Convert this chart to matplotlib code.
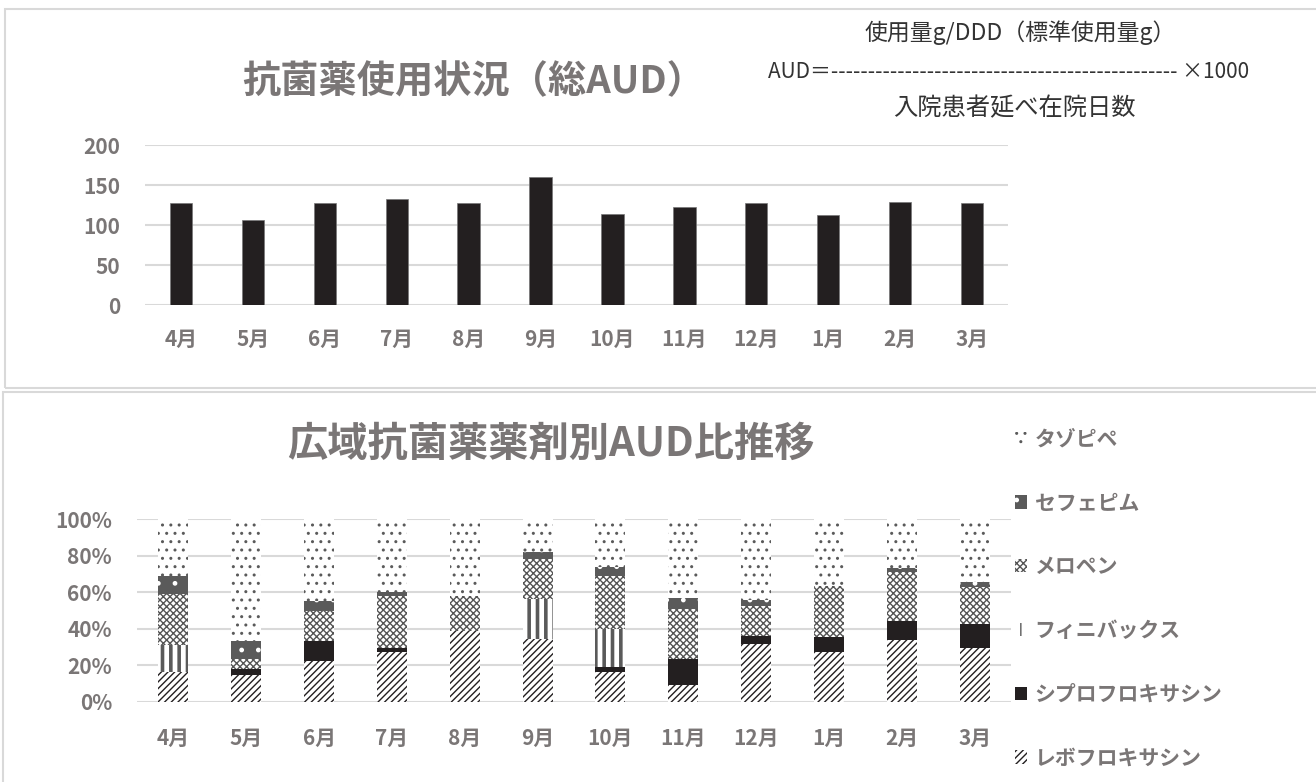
import numpy as np
import matplotlib
matplotlib.use("Agg")
import matplotlib.pyplot as plt
from matplotlib.patches import Rectangle
from matplotlib.ticker import FuncFormatter

plt.rcParams['font.family'] = ['Noto Sans CJK JP', 'DejaVu Sans']
plt.rcParams['hatch.linewidth'] = 1.0

months = ['4月', '5月', '6月', '7月', '8月', '9月', '10月', '11月', '12月', '1月', '2月', '3月']

# total AUD per month
aud_total = [128, 106, 127, 132, 128, 160, 114, 122, 128, 112, 129, 127]

# share (%) per drug, stacked bottom -> top
levo = [16.2, 14.6, 22.4, 27.1, 38.6, 34.4, 16.6, 9.1, 31.9, 27.1, 34.1, 29.5]
cipro = [0, 3.3, 11.1, 2.2, 0, 0, 2.3, 14.4, 4.0, 8.6, 10.2, 12.9]
finibax = [14.8, 0, 0, 0, 0, 21.9, 21.0, 0, 0, 0, 0, 0]
meropen = [28.2, 5.6, 16.0, 28.4, 19.5, 21.8, 29.1, 27.5, 16.4, 27.9, 26.6, 20.4]
cefepime = [9.5, 9.8, 5.5, 2.2, 0, 3.7, 4.6, 5.6, 3.3, 0, 2.3, 2.8]
tazo = [31.3, 66.7, 45.0, 40.1, 41.9, 18.2, 26.4, 43.4, 44.4, 36.4, 26.8, 34.4]

drug_names = ['レボフロキサシン', 'シプロフロキサシン', 'フィニバックス', 'メロペン', 'セフェピム', 'タゾピペ']

W, H = 1316, 782
fig = plt.figure(figsize=(W / 100, H / 100), dpi=100)

gray_txt = '#7a7676'
grid_c = '#d9d9d9'
tick_fs = 15


def px_axes(left, top, right, bottom):
    return fig.add_axes([left / W, 1 - bottom / H, (right - left) / W, (bottom - top) / H])


def thick_hatch(orig_draw, lw):
    # hatch width is read when the patch is drawn (older versions)
    def draw(renderer):
        with plt.rc_context({'hatch.linewidth': lw}):
            orig_draw(renderer)
    return draw


# panel frames
fig.patches.append(Rectangle((5 / W, 1 - 388 / H), 1.0, 379 / H, transform=fig.transFigure,
                             fill=False, edgecolor=grid_c, lw=1.5, zorder=0))
fig.patches.append(Rectangle((3 / W, 1 - 800 / H), 1.0, 408 / H, transform=fig.transFigure,
                             fill=False, edgecolor=grid_c, lw=1.5, zorder=0))


def style_axes(ax):
    for s in ax.spines.values():
        s.set_visible(False)
    ax.yaxis.grid(True, color=grid_c, lw=1.5)
    ax.set_axisbelow(True)
    ax.tick_params(length=0, labelsize=tick_fs, labelcolor=gray_txt)
    for lab in ax.get_xticklabels() + ax.get_yticklabels():
        lab.set_fontweight('bold')


# ---- top chart
x = np.arange(len(months))
ax1 = px_axes(145, 145, 1008, 305)
ax1.bar(x, aud_total, width=0.31, color='#231f20', edgecolor='#777777', lw=0.5)
ax1.set_xlim(-0.5, 11.5)
ax1.set_ylim(0, 200)
ax1.set_yticks([0, 50, 100, 150, 200])
ax1.set_xticks(x)
ax1.set_xticklabels(months)
style_axes(ax1)
ax1.tick_params(axis='y', pad=18)
ax1.tick_params(axis='x', pad=17)
fig.text(474 / W, 1 - 82 / H, '抗菌薬使用状況（総AUD）', ha='center', va='center',
         fontsize=27.5, fontweight='bold', color=gray_txt)

# formula box
fig.text(1020 / W, 1 - 33 / H, '使用量g/DDD（標準使用量g）', ha='center', va='center',
         fontsize=16.5, color='#333333')
fig.text(768 / W, 1 - 72 / H, 'AUD＝' + '-' * 47 + ' ×1000', ha='left', va='center',
         fontsize=15, color='#333333')
fig.text(1014 / W, 1 - 108 / H, '入院患者延べ在院日数', ha='center', va='center',
         fontsize=17.5, color='#333333')

# ---- bottom chart
ax2 = px_axes(137, 519, 1011, 702)
series = [levo, cipro, finibax, meropen, cefepime, tazo]
styles = [
    dict(facecolor='white', edgecolor='#231f20', hatch='/////'),
    dict(facecolor='#231f20', edgecolor='#231f20', hatch=None),
    dict(facecolor='white', edgecolor='#5a5a5a', hatch='||'),
    dict(facecolor='white', edgecolor='#555555', hatch='xxxxx'),
    dict(facecolor='#5a5a5a', edgecolor='white', hatch='.'),
    dict(facecolor='white', edgecolor='#5a5a5a', hatch='..'),
]
bottom = np.zeros(len(months))
containers = []
for vals, st, name in zip(series, styles, drug_names):
    vals = np.array(vals, dtype=float)
    hlw = 2.6 if name == 'フィニバックス' else 1.0
    with plt.rc_context({'hatch.linewidth': hlw}):
        bc = ax2.bar(x, vals, width=0.41, bottom=bottom, lw=0, label=name, **st)
    if hlw != 1.0:
        for p in bc:
            if hasattr(p, 'set_hatch_linewidth'):
                p.set_hatch_linewidth(hlw)
            p.draw = thick_hatch(p.draw, hlw)
    containers.append(bc)
    bottom += vals
ax2.set_xlim(-0.5, 11.5)
ax2.set_ylim(0, 100)
ax2.set_yticks([0, 20, 40, 60, 80, 100])
ax2.yaxis.set_major_formatter(FuncFormatter(lambda v, p: f'{int(v)}%'))
ax2.set_xticks(x)
ax2.set_xticklabels(months)
style_axes(ax2)
ax2.tick_params(axis='y', pad=18)
ax2.tick_params(axis='x', pad=19)
fig.text(551 / W, 1 - 444 / H, '広域抗菌薬薬剤別AUD比推移', ha='center', va='center',
         fontsize=29, fontweight='bold', color=gray_txt)

leg = fig.legend(containers[::-1], drug_names[::-1], loc='upper left',
                 bbox_to_anchor=(996 / W, 1 - 410 / H), frameon=False,
                 handlelength=0.6, handleheight=0.6, handletextpad=0.35,
                 labelspacing=2.05, prop=dict(size=15, weight='bold'))
for t in leg.get_texts():
    t.set_color(gray_txt)

fig.savefig('out.png', dpi=100, facecolor='white')
